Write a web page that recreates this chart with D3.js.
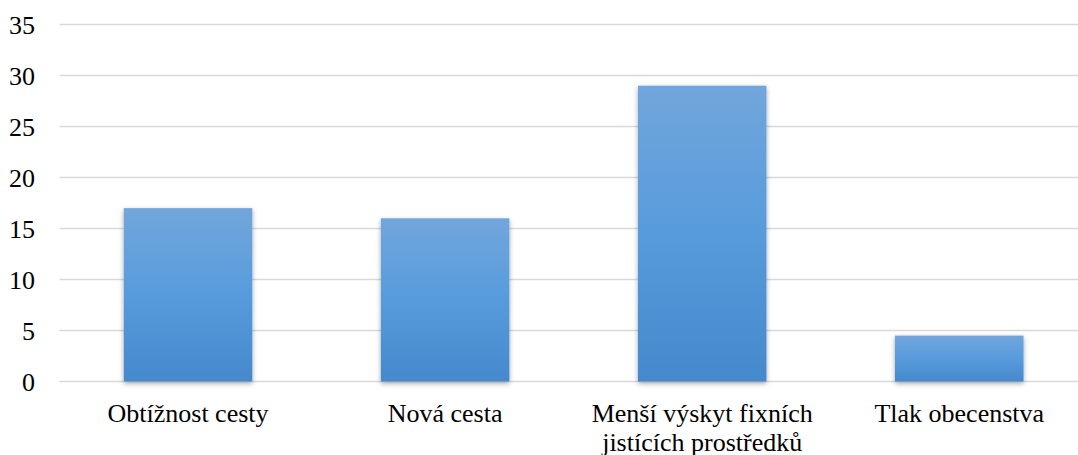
<!DOCTYPE html>
<html><head><meta charset="utf-8">
<script src="https://cdn.jsdelivr.net/npm/d3@7"></script>
<style>html,body{margin:0;padding:0;background:#fff;overflow:hidden}
text{font-family:"Liberation Serif","Times New Roman",Times,"DejaVu Serif",serif;}</style>
</head><body>
<svg id="c" width="1078" height="455"></svg>
<script>
const categories = ["Obtížnost cesty", "Nová cesta", "Menší výskyt fixních jistících prostředků", "Tlak obecenstva"];
const labelLines = [["Obtížnost cesty"], ["Nová cesta"], ["Menší výskyt fixních", "jistících prostředků"], ["Tlak obecenstva"]];
const values = [17, 16, 29, 4.5];
const yTicks = [0, 5, 10, 15, 20, 25, 30, 35];

const svg = d3.select("#c");
const defs = svg.append("defs");
const grad = defs.append("linearGradient").attr("id", "g").attr("x1", 0).attr("y1", 0).attr("x2", 0).attr("y2", 1);
grad.append("stop").attr("offset", "0%").attr("stop-color", "#72a6dc");
grad.append("stop").attr("offset", "50%").attr("stop-color", "#579bdc");
grad.append("stop").attr("offset", "100%").attr("stop-color", "#4589cc");
const f = defs.append("filter").attr("id", "sh").attr("x", "-20%").attr("y", "-20%").attr("width", "140%").attr("height", "140%");
f.append("feDropShadow").attr("dx", 0).attr("dy", 2).attr("stdDeviation", 2.5).attr("flood-color", "#000").attr("flood-opacity", 0.35);

const x = d3.scaleBand().domain(categories).range([59.5, 1087.8]).paddingInner(0.5).paddingOuter(0.25);
const y = d3.scaleLinear().domain([0, 35]).range([381.5, 24.5]);

svg.append("g").selectAll("line").data(yTicks).join("line")
  .attr("x1", 59.5).attr("x2", 1087.8)
  .attr("y1", d => y(d)).attr("y2", d => y(d))
  .attr("stroke", "#d9d9d9").attr("stroke-width", 1.6);

svg.append("g").selectAll("text").data(yTicks).join("text")
  .attr("x", 35).attr("y", d => y(d)).attr("dy", "0.35em")
  .attr("text-anchor", "end")
  .attr("font-size", 26).attr("fill", "#000")
  .text(d => d);

svg.append("g").selectAll("rect").data(values).join("rect")
  .attr("x", (d, i) => x(categories[i]))
  .attr("width", x.bandwidth())
  .attr("y", d => y(d))
  .attr("height", d => y(0) - y(d))
  .attr("fill", "url(#g)")
  .attr("filter", "url(#sh)");

const lab = svg.append("g").selectAll("text").data(categories).join("text")
  .attr("x", d => x(d) + x.bandwidth() / 2)
  .attr("y", 422)
  .attr("text-anchor", "middle")
  .attr("font-size", 26).attr("fill", "#000");
lab.each(function(d, i) {
  const t = d3.select(this);
  labelLines[i].forEach((ln, j) => {
    t.append("tspan").attr("x", x(d) + x.bandwidth() / 2).attr("dy", j === 0 ? 0 : 29).text(ln);
  });
});
</script>
</body></html>
